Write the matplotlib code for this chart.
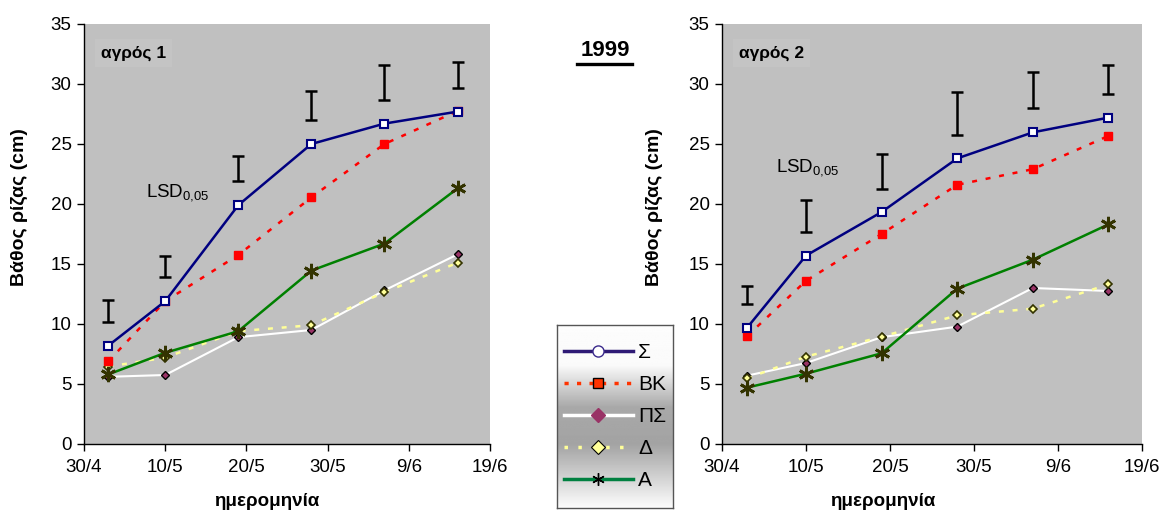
import matplotlib
matplotlib.use("Agg")
import matplotlib.pyplot as plt
from matplotlib.lines import Line2D
import numpy as np
import datetime as dt

plt.rcParams['font.family'] = ['Liberation Sans', 'DejaVu Sans']
plt.rcParams['mathtext.fontset'] = 'custom'
plt.rcParams['mathtext.rm'] = 'Liberation Sans'

# ---------------- data ----------------
dates = ['1999-05-03', '1999-05-10', '1999-05-19', '1999-05-28', '1999-06-06', '1999-06-15']
tick_dates = ['1999-04-30', '1999-05-10', '1999-05-20', '1999-05-30', '1999-06-09', '1999-06-19']
tick_labels = ['30/4', '10/5', '20/5', '30/5', '9/6', '19/6']
series_names = ['Σ', 'ΒΚ', 'ΠΣ', 'Δ', 'Α']

field1_S = [8.2, 11.9, 19.9, 25.0, 26.7, 27.7]
field1_BK = [6.9, 11.9, 15.75, 20.55, 25.0, 27.75]
field1_PS = [5.6, 5.75, 8.9, 9.5, 12.8, 15.8]
field1_D = [6.45, 7.2, 9.4, 9.9, 12.65, 15.1]
field1_A = [5.8, 7.6, 9.4, 14.45, 16.7, 21.3]
field1_lsd_low = [10.2, 13.9, 21.9, 27.0, 28.7, 29.7]
field1_lsd_high = [12.0, 15.7, 24.0, 29.4, 31.55, 31.8]

field2_S = [9.7, 15.7, 19.33, 23.8, 25.97, 27.2]
field2_BK = [9.0, 13.6, 17.5, 21.6, 22.9, 25.67]
field2_PS = [5.7, 6.75, 8.9, 9.78, 13.0, 12.75]
field2_D = [5.47, 7.28, 8.94, 10.72, 11.28, 13.3]
field2_A = [4.7, 5.86, 7.56, 12.94, 15.36, 18.3]
field2_lsd_low = [11.67, 17.7, 21.28, 25.75, 27.97, 29.2]
field2_lsd_high = [13.2, 20.3, 24.14, 29.3, 31.0, 31.6]

title_year = '1999'
field_titles = ['αγρός 1', 'αγρός 2']
ylabel = 'Βάθος ρίζας (cm)'
xlabel = 'ημερομηνία'

# --------------- figure ----------------
W, H = 1174, 512
fig = plt.figure(figsize=(W / 100, H / 100), dpi=100)
fig.patch.set_facecolor('white')

x = [dt.datetime.strptime(d, '%Y-%m-%d') for d in dates]
xt = [dt.datetime.strptime(d, '%Y-%m-%d') for d in tick_dates]

def px(x0, y0, w, h):
    return [x0 / W, 1 - (y0 + h) / H, w / W, h / H]

axes_specs = [
    (px(84, 24, 406, 420), 406, 84, field_titles[0],
     [field1_S, field1_BK, field1_PS, field1_D, field1_A], field1_lsd_low, field1_lsd_high,
     (101, 53), (146, 193), 267, 28),
    (px(722, 24, 420, 420), 420, 722, field_titles[1],
     [field2_S, field2_BK, field2_PS, field2_D, field2_A], field2_lsd_low, field2_lsd_high,
     (739, 53), (776, 168), 883, 663),
]

styles = [
    dict(color='#000080', lw=1.8, ls='-', marker='s', ms=5.5, mfc='white', mec='#000080', mew=1.5, zorder=6),
    dict(color='#FF0000', lw=1.8, ls=(0, (2, 3.5)), marker='s', ms=5.5, mfc='#FF0000', mec='#FF0000', mew=1, zorder=5),
    dict(color='white', lw=1.5, ls='-', marker='D', ms=4, mfc='#993366', mec='black', mew=1.0, zorder=3),
    dict(color='#FFFF99', lw=1.8, ls=(0, (2, 3.5)), marker='D', ms=4, mfc='#FFFF99', mec='#333300', mew=1.2, zorder=4),
    dict(color='#008000', lw=1.8, ls='-', marker=(6, 2, 0), ms=11, mfc='#333300', mec='#333300', mew=2.0, zorder=5),
]

for rect, wpx, x0px, ftitle, series, lo, hi, tpos, lpos, xlab_x, ylab_x in axes_specs:
    ax = fig.add_axes(rect)
    ax.set_facecolor('#C0C0C0')
    for s, st in zip(series, styles):
        ax.plot(x, s, **st)
    lo_a = np.array(lo); hi_a = np.array(hi)
    ax.errorbar(x, (lo_a + hi_a) / 2, yerr=(hi_a - lo_a) / 2, fmt='none',
                ecolor='black', elinewidth=1.8, capsize=4.5, capthick=1.8, zorder=7)
    ax.set_ylim(0, 35)
    ax.set_yticks(range(0, 36, 5))
    ax.set_xlim(xt[0], xt[-1])
    ax.set_xticks(xt)
    ax.set_xticklabels(tick_labels)
    ax.tick_params(axis='both', labelsize=13.5, direction='out', length=5, width=1, colors='black')
    ax.tick_params(axis='x', pad=6)
    ax.tick_params(axis='y', pad=4)
    for sp in ['top', 'right']:
        ax.spines[sp].set_visible(False)
    for sp in ['left', 'bottom']:
        ax.spines[sp].set_linewidth(1)
    ax.set_ylabel(ylabel, fontsize=14, fontweight='bold')
    ax.yaxis.set_label_coords((ylab_x - x0px) / wpx, 0.563)
    fig.text(tpos[0] / W, 1 - tpos[1] / H, ftitle, fontsize=12.5, fontweight='bold',
             ha='left', va='center',
             bbox=dict(boxstyle='square,pad=0.35', fc='#C4C4C4', ec='none'))
    fig.text(lpos[0] / W, 1 - lpos[1] / H, r'LSD$_\mathrm{0{,}05}$', fontsize=13.5,
             ha='left', va='center')
    fig.text(xlab_x / W, 1 - 501 / H, xlabel, fontsize=13.5, fontweight='bold',
             ha='center', va='center')

# year title
fig.text(605 / W, 1 - 50 / H, title_year, fontsize=16, fontweight='bold',
         ha='center', va='center')
fig.add_artist(Line2D([577 / W, 632 / W], [1 - 63.5 / H, 1 - 63.5 / H], color='black', lw=2.4))

# legend with gradient
lax = fig.add_axes(px(557, 325, 116, 183))
grad_pos = [0.0, 0.22, 0.45, 0.65, 1.0]
grad_val = [0.99, 0.98, 0.66, 0.64, 0.99]
yy = np.linspace(0, 1, 200)
g = np.interp(yy, grad_pos, grad_val)
img = np.repeat(g[:, None], 2, axis=1)
lax.imshow(img, cmap='gray', vmin=0, vmax=1, aspect='auto', extent=[0, 1, 0, 1], origin='upper')
lax.set_xticks([]); lax.set_yticks([])
for sp in lax.spines.values():
    sp.set_edgecolor('#555555'); sp.set_linewidth(1)

leg_styles = [
    dict(color='#2E1A75', lw=2.5, ls='-', marker='o', ms=8, mfc='white', mec='#3B2A8C', mew=1),
    dict(color='#FF3300', lw=2.5, ls=(0, (1.2, 2.4)), marker='s', ms=7, mfc='#FF3300', mec='black', mew=1),
    dict(color='white', lw=2.5, ls='-', marker='D', ms=7, mfc='#993366', mec='#993366', mew=1),
    dict(color='#FFFF99', lw=2.5, ls=(0, (1, 3)), marker='D', ms=7, mfc='#FFFF99', mec='black', mew=0.8),
    dict(color='#008040', lw=2.5, ls='-', marker=(6, 2, 0), ms=9, mfc='black', mec='black', mew=1),
]
handles = [Line2D([], [], **st) for st in leg_styles]
lax.legend(handles, series_names, loc='center', frameon=False, fontsize=15,
           handlelength=3.3, handletextpad=0.25, labelspacing=0.62, borderpad=0.2,
           borderaxespad=0)

fig.savefig('out.png', dpi=100, facecolor='white')
